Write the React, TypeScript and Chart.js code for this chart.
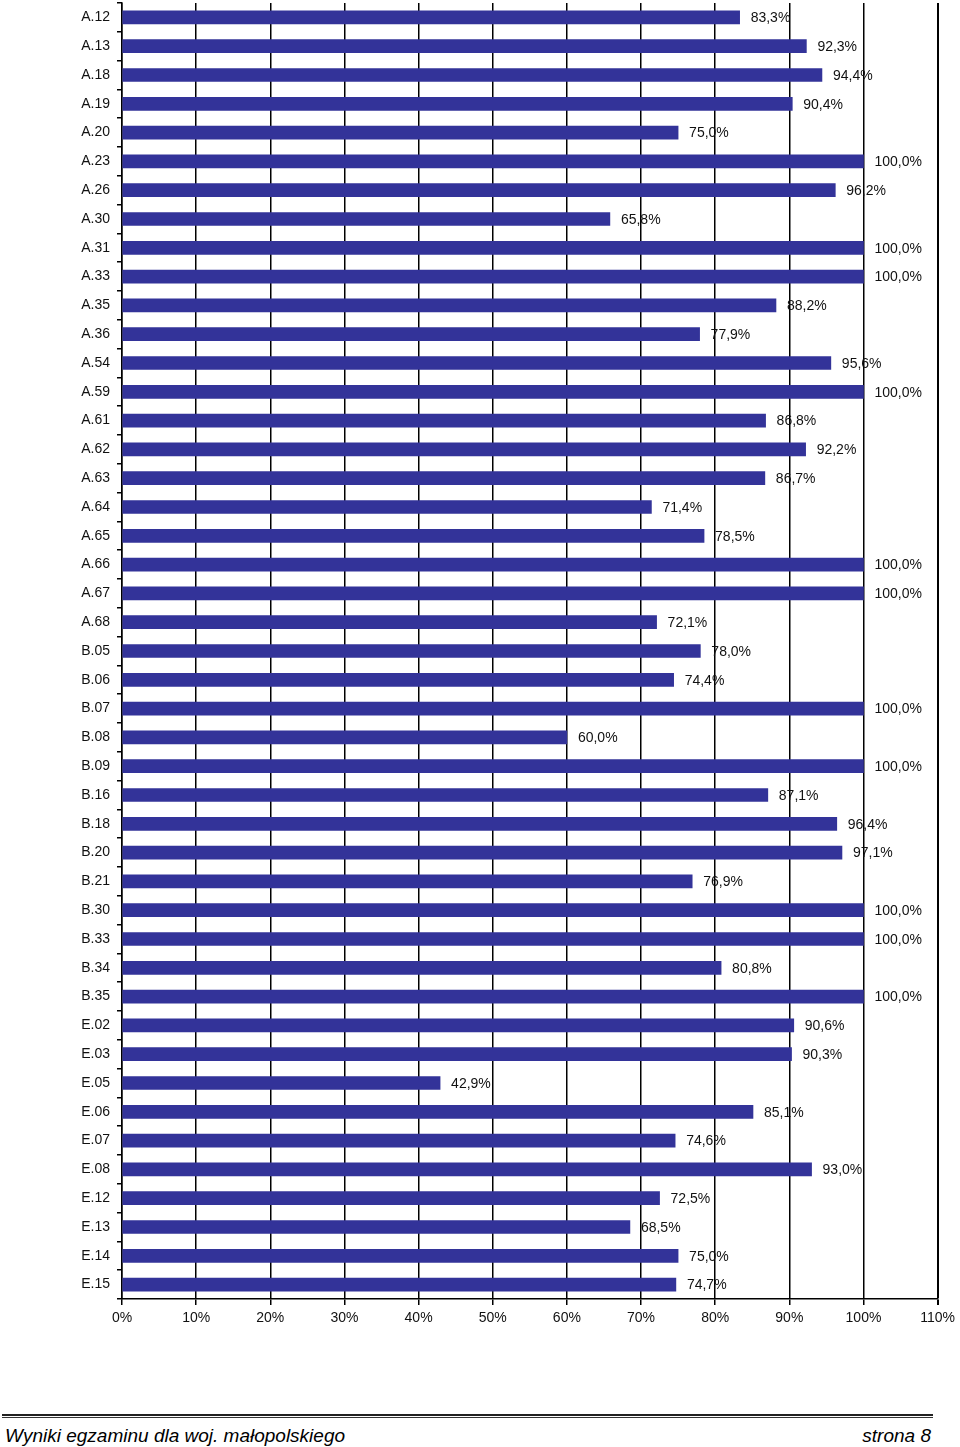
import React, { useEffect, useRef } from "react";
import { Chart, registerables } from "chart.js";

Chart.register(...registerables);

const categories = [
  "A.12", "A.13", "A.18", "A.19", "A.20", "A.23", "A.26", "A.30", "A.31", "A.33",
  "A.35", "A.36", "A.54", "A.59", "A.61", "A.62", "A.63", "A.64", "A.65", "A.66",
  "A.67", "A.68", "B.05", "B.06", "B.07", "B.08", "B.09", "B.16", "B.18", "B.20",
  "B.21", "B.30", "B.33", "B.34", "B.35", "E.02", "E.03", "E.05", "E.06", "E.07",
  "E.08", "E.12", "E.13", "E.14", "E.15",
];

const values = [
  83.3, 92.3, 94.4, 90.4, 75.0, 100, 96.2, 65.8, 100, 100,
  88.2, 77.9, 95.6, 100, 86.8, 92.2, 86.7, 71.4, 78.5, 100,
  100, 72.1, 78.0, 74.4, 100, 60.0, 100, 87.1, 96.4, 97.1,
  76.9, 100, 100, 80.8, 100, 90.6, 90.3, 42.9, 85.1, 74.6,
  93.0, 72.5, 68.5, 75.0, 74.7,
];

const xTicks = [0, 10, 20, 30, 40, 50, 60, 70, 80, 90, 100, 110];

const FONT = "'Liberation Sans', Arial, Helvetica, sans-serif";

const valueLabelPlugin = {
  id: "valueLabels",
  afterDatasetsDraw(chart: any) {
    const ctx = chart.ctx;
    const meta = chart.getDatasetMeta(0);
    ctx.save();
    ctx.font = `14px ${FONT}`;
    ctx.fillStyle = "#111";
    ctx.textAlign = "left";
    ctx.textBaseline = "middle";
    meta.data.forEach((bar: any, i: number) => {
      const v = values[i];
      const txt = v.toFixed(1).replace(".", ",") + "%";
      ctx.fillText(txt, bar.x + 11, bar.y + 1);
    });
    ctx.restore();
  },
};

export default function App() {
  const canvasRef = useRef<HTMLCanvasElement | null>(null);

  useEffect(() => {
    if (!canvasRef.current) return;
    const chart = new Chart(canvasRef.current, {
      type: "bar",
      data: {
        labels: categories,
        datasets: [
          {
            data: values,
            backgroundColor: "#333399",
            borderWidth: 0,
            barThickness: 13,
          },
        ],
      },
      options: {
        indexAxis: "y",
        animation: false,
        responsive: false,
        maintainAspectRatio: false,
        layout: { padding: { top: 3, right: 22, left: 0, bottom: 0 } },
        plugins: {
          legend: { display: false },
          tooltip: { enabled: false },
        },
        scales: {
          x: {
            min: 0,
            max: 110,
            afterBuildTicks: (scale: any) => {
              scale.ticks = xTicks.map((v) => ({ value: v }));
            },
            ticks: {
              callback: (v: any) => `${v}%`,
              font: { family: FONT, size: 14 },
              color: "#111",
              padding: 5,
              maxRotation: 0,
              autoSkip: false,
            },
            grid: {
              color: "#000",
              lineWidth: (ctx: any) => (ctx.tick && ctx.tick.value === 110 ? 2 : 1.5),
              tickLength: 6,
              drawTicks: true,
            },
            border: { display: true, color: "#000", width: 1.5 },
            afterFit: (scale: any) => {
              scale.height = 41;
            },
          },
          y: {
            ticks: {
              font: { family: FONT, size: 14 },
              color: "#111",
              padding: 7,
              autoSkip: false,
            },
            grid: {
              offset: true,
              drawOnChartArea: false,
              drawTicks: true,
              tickLength: 5,
              color: "#000",
              lineWidth: 1.5,
            },
            border: { display: true, color: "#000", width: 1.5 },
            afterFit: (scale: any) => {
              scale.width = 122;
              scale.paddingTop = 0;
              scale.paddingBottom = 0;
            },
          },
        },
      },
      plugins: [valueLabelPlugin],
    });
    return () => chart.destroy();
  }, []);

  return (
    <div style={{ position: "absolute", left: 0, top: 0, width: 960, height: 1447, background: "#fff" }}>
      <canvas ref={canvasRef} width={960} height={1340} style={{ position: "absolute", left: 0, top: 0 }} />
      <div style={{ position: "absolute", left: 2, top: 1414, width: 931, height: 2, background: "#222" }} />
      <div style={{ position: "absolute", left: 2, top: 1417, width: 931, height: 1, background: "#333" }} />
      <div
        style={{
          position: "absolute",
          left: 5,
          top: 1425,
          fontFamily: FONT,
          fontStyle: "italic",
          fontSize: 19,
          color: "#000",
          whiteSpace: "nowrap",
          lineHeight: "22px",
        }}
      >
        Wyniki egzaminu dla woj. małopolskiego
      </div>
      <div
        style={{
          position: "absolute",
          right: 29,
          top: 1425,
          fontFamily: FONT,
          fontStyle: "italic",
          fontSize: 19,
          color: "#000",
          whiteSpace: "nowrap",
          lineHeight: "22px",
        }}
      >
        strona 8
      </div>
    </div>
  );
}
